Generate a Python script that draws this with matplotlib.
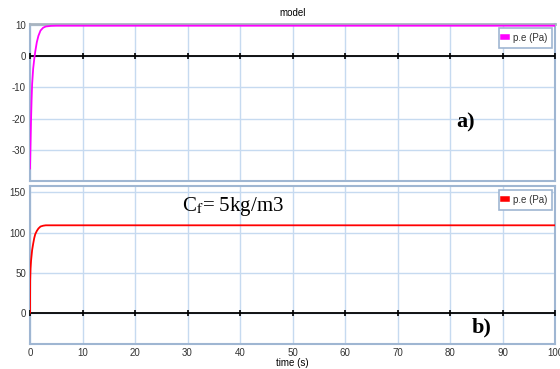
import numpy as np
import matplotlib
matplotlib.use("Agg")
import matplotlib.pyplot as plt

plt.rcParams['font.family'] = ['Liberation Sans', 'DejaVu Sans']
plt.rcParams['mathtext.fontset'] = 'stix'
plt.rcParams['axes.unicode_minus'] = False

# pressure response, case a)
t_a = [0, 0.1, 0.2, 0.3, 0.4, 0.6, 0.8, 1.0, 1.3, 1.6, 2.0, 2.5, 3.0, 4.0, 5.0, 100]
p_a = [-36, -28, -20, -14, -9, -4, -1, 1.5, 4.5, 6.5, 8.2, 9.1, 9.5, 9.7, 9.75, 9.75]

# pressure response, case b)
t_b = [0, 0.03, 0.1, 0.2, 0.4, 0.6, 0.8, 1.0, 1.3, 1.6, 2.0, 2.5, 3.0, 100]
p_b = [0, 40, 55, 65, 78, 86, 93, 98, 102, 105, 107.5, 108.5, 109, 109]

xticks = np.arange(0, 101, 10)
yticks_a = [-30, -20, -10, 0, 10]
yticks_b = [0, 50, 100, 150]

grid_col = '#c6daf0'
spine_col = '#9fb6d2'
label_col = '#333333'

fig = plt.figure(figsize=(5.6, 3.69), dpi=100)
ax1 = fig.add_axes([0.0536, 0.5095, 0.9375, 0.4255])
ax2 = fig.add_axes([0.0536, 0.0678, 0.9375, 0.4281])


def style(ax, yticks, ylim):
    ax.set_xlim(0, 100)
    ax.set_ylim(*ylim)
    ax.set_xticks(xticks)
    ax.set_yticks(yticks)
    ax.grid(True, color=grid_col, lw=1.0)
    ax.set_axisbelow(True)
    for s in ax.spines.values():
        s.set_color(spine_col)
        s.set_linewidth(1.5)
    ax.tick_params(length=0, labelsize=7, colors=label_col, pad=3)
    # zero line with small tick marks
    ax.axhline(0, color='black', lw=1.3, zorder=3)
    ax.plot(xticks, np.zeros(len(xticks)), ls='none', marker='|',
            ms=5, mew=1.2, color='black', zorder=3, clip_on=False)


style(ax1, yticks_a, (-40, 10.3))
style(ax2, yticks_b, (-39, 158))
ax1.spines['top'].set_color('#a8b4c0')
ax1.spines['top'].set_linewidth(2)
ax1.tick_params(labelbottom=False)

ax1.plot(t_a, p_a, color='#ff00ff', lw=1.3, zorder=4, label='p.e (Pa)')
ax2.plot(t_b, p_b, color='#ff0000', lw=1.3, zorder=4, label='p.e (Pa)')

for ax in (ax1, ax2):
    leg = ax.legend(loc='upper right', fontsize=7, handlelength=0.35,
                    handletextpad=0.6, borderpad=0.5, borderaxespad=0,
                    fancybox=False, framealpha=1,
                    bbox_to_anchor=(0.994, 0.975))
    leg.get_frame().set_edgecolor(spine_col)
    leg.get_frame().set_linewidth(1.2)
    for h in leg.get_lines():
        h.set_linewidth(4)
    for txt in leg.get_texts():
        txt.set_color(label_col)

ax1.set_title('model', fontsize=7, pad=6)
ax2.set_xlabel('time (s)', fontsize=7, labelpad=0)

ax1.text(0.829, 0.37, 'a)', transform=ax1.transAxes, fontsize=16,
         fontweight='bold', family='Liberation Serif', ha='center', va='center')
ax2.text(0.86, 0.105, 'b)', transform=ax2.transAxes, fontsize=16,
         fontweight='bold', family='Liberation Serif', ha='center', va='center')
ax2.text(0.29, 0.87, r'C$_{\rm f}$= 5kg/m3', transform=ax2.transAxes,
         fontsize=15, family='Liberation Serif', ha='left', va='center')

fig.savefig('out.png', dpi=100)
